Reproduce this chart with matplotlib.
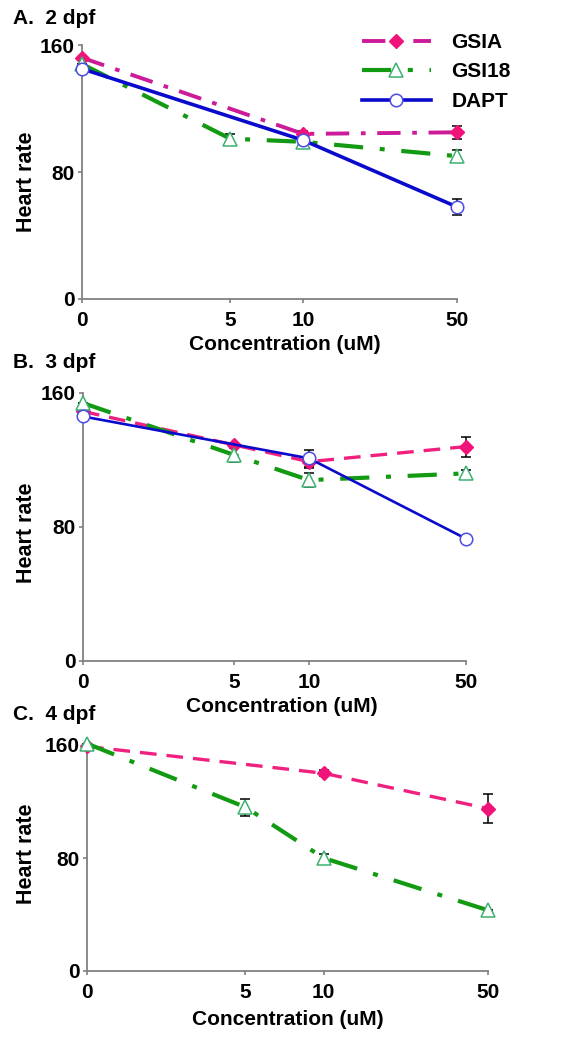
import matplotlib
matplotlib.use("Agg")
import matplotlib.pyplot as plt
import numpy as np

plt.rcParams['font.family'] = ['Liberation Sans', 'DejaVu Sans']
plt.rcParams['font.weight'] = 'bold'

# ---- data ----
conc_labels = ["0", "5", "10", "50"]
x_pos = [0.0, 0.395, 0.59, 1.0]   # axis positions of the concentration categories

panel_titles = ["A.  2 dpf", "B.  3 dpf", "C.  4 dpf"]
series_names = ["GSIA", "GSI18", "DAPT"]

# Panel A (2 dpf)
a_gsia = [152, np.nan, 104, 105]
a_gsia_err = [0, 0, 2, 4]
a_gsi18 = [148, 101, 99, 90]
a_gsi18_err = [0, 3, 2, 4]
a_dapt = [145, np.nan, 100, 58]
a_dapt_err = [0, 0, 0, 5]

# Panel B (3 dpf)
b_gsia = [149, 129, 119, 128]
b_gsia_err = [0, 0, 4, 6]
b_gsi18 = [154, 123, 108, 112]
b_gsi18_err = [0, 4, 4, 2]
b_dapt = [146, np.nan, 121, 73]
b_dapt_err = [0, 0, 5, 0]

# Panel C (4 dpf)
c_gsia = [159, np.nan, 140, 115]
c_gsia_err = [0, 0, 2, 10]
c_gsi18 = [161, 116, 80, 43]
c_gsi18_err = [0, 6, 3, 0]

yticks = [0, 80, 160]

# ---- styles ----
GSIA_LINE_A = '#CC1A99'
GSIA_LINE = '#F0207F'
GSIA_FACE = '#F0147A'
GREEN = '#129A12'
TRI_EDGE = '#3CB070'
BLUE = '#0A0ACC'
CIRC_EDGE = '#4B4BE6'
FS = 15

W, H = 561, 1050
fig = plt.figure(figsize=(W / 100, H / 100), dpi=100)


def ax_rect(left, right, top, bottom):
    return [left / W, 1 - bottom / H, (right - left) / W, (bottom - top) / H]


rects = [ax_rect(82, 457, 45, 299), ax_rect(83, 466, 393, 661), ax_rect(87, 488, 745, 971)]
title_y = [18, 362, 715]
xlabel_y = [-0.143, -0.135, -0.174]
xlabel_x = [0.54, 0.52, 0.50]
ylabel_x = [-0.12, -0.12, -0.125]
ylabel_y = [0.46, 0.478, 0.52]

panels = [
    [(a_gsia, a_gsia_err), (a_gsi18, a_gsi18_err), (a_dapt, a_dapt_err)],
    [(b_gsia, b_gsia_err), (b_gsi18, b_gsi18_err), (b_dapt, b_dapt_err)],
    [(c_gsia, c_gsia_err), (c_gsi18, c_gsi18_err)],
]


def style_for(name, panel):
    if name == "GSIA":
        if panel == 0:
            return dict(color=GSIA_LINE_A, ls=(0, (6, 3, 1.2, 3)), lw=2.8, marker='D',
                        mfc=GSIA_FACE, mec=GSIA_FACE, ms=7)
        return dict(color=GSIA_LINE, ls=(0, (5, 3)), lw=2.4, marker='D',
                    mfc=GSIA_FACE, mec=GSIA_FACE, ms=7)
    if name == "GSI18":
        return dict(color=GREEN, ls=(0, (7, 4, 1.2, 4)), lw=3.0, marker='^',
                    mfc='white', mec=TRI_EDGE, ms=10, mew=1.1)
    return dict(color=BLUE, ls='-', lw=2.6 if panel == 0 else 1.9, marker='o',
                mfc='white', mec=CIRC_EDGE, ms=9, mew=1.1)


legend_handles = []
axes = []
for i, (rect, series) in enumerate(zip(rects, panels)):
    ax = fig.add_axes(rect)
    axes.append(ax)
    for name, (vals, errs) in zip(series_names, series):
        v = np.array(vals, dtype=float)
        e = np.array(errs, dtype=float)
        xs = np.array(x_pos)
        m = ~np.isnan(v)
        st = style_for(name, i)
        ax.errorbar(xs[m], v[m], yerr=e[m], fmt='none', ecolor='black', elinewidth=1.1,
                    capsize=3.5, capthick=1.1, clip_on=False, zorder=2)
        ln, = ax.plot(xs[m], v[m], color=st['color'], ls=st['ls'], lw=st['lw'],
                      marker=st['marker'], mfc=st['mfc'], mec=st['mec'], ms=st['ms'],
                      mew=st.get('mew', 1.0), clip_on=False, zorder=3, label=name)
        if i == 0:
            legend_handles.append(ln)
    ax.set_xlim(0, 1)
    ax.set_ylim(0, 160)
    ax.set_xticks(x_pos)
    ax.set_xticklabels(conc_labels)
    ax.set_yticks(yticks)
    ax.set_yticklabels([str(t) for t in yticks])
    for s in ['top', 'right']:
        ax.spines[s].set_visible(False)
    for s in ['left', 'bottom']:
        ax.spines[s].set_color('#808080')
        ax.spines[s].set_linewidth(1.3)
    ax.tick_params(axis='both', colors='#808080', length=3, width=1.2, direction='out',
                   labelcolor='black', labelsize=FS)
    ax.tick_params(axis='y', pad=2)
    ax.tick_params(axis='x', pad=6)
    for lab in ax.get_xticklabels() + ax.get_yticklabels():
        lab.set_fontweight('bold')
    ax.set_xlabel("Concentration (uM)", fontsize=FS, fontweight='bold')
    ax.set_ylabel("Heart rate", fontsize=FS + 0.5, fontweight='bold')
    ax.xaxis.set_label_coords(xlabel_x[i], xlabel_y[i])
    ax.yaxis.set_label_coords(ylabel_x[i], ylabel_y[i])
    ax.set_facecolor('none')
    fig.text(13 / W, 1 - title_y[i] / H, panel_titles[i], fontsize=FS, fontweight='bold',
             ha='left', va='center')

leg = axes[0].legend(handles=legend_handles, loc='upper left',
                     bbox_to_anchor=(362 / W, 1 - 33 / H), bbox_transform=fig.transFigure,
                     frameon=False, fontsize=FS, handlelength=3.3, handletextpad=1.0,
                     labelspacing=0.5, borderaxespad=0, borderpad=0)
for t in leg.get_texts():
    t.set_fontweight('bold')

fig.savefig("out.png", dpi=100, facecolor='white')
